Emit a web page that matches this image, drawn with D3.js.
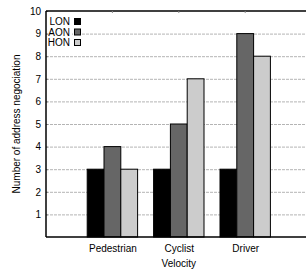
<!DOCTYPE html>
<html lang="en">
<head>
<meta charset="utf-8">
<script src="https://d3js.org/d3.v7.min.js"></script>
<style>
    body { margin: 0; background: #fff; }
    text { font-family: "Liberation Sans", Arial, sans-serif; fill: #000; }
</style>
</head>
<body>
<div id="container"></div>
<script>
    var categories = ["Pedestrian", "Cyclist", "Driver"];
    var series = ["LON", "AON", "HON"];
    var LON = [3, 3, 3];
    var AON = [4, 5, 9];
    var HON = [3, 7, 8];
    var yTicks = [1, 2, 3, 4, 5, 6, 7, 8, 9, 10];
    var colors = ["#000000", "#666666", "#cccccc"];

    var W = 306, H = 271;
    var margin = {top: 11, left: 46, bottom: 34};
    var values = [LON, AON, HON];

    var svg = d3.select("#container").append("svg")
        .attr("width", W).attr("height", H);

    // categories sit at 1,2,3 on a 0..4 axis that runs off the right edge
    var x = d3.scaleLinear().domain([0, 4]).range([margin.left, margin.left + 4 * 66.4]);
    var y = d3.scaleLinear().domain([0, 10]).range([H - margin.bottom, margin.top]);
    var barW = 16.8;

    // grid lines
    svg.append("g").selectAll("line")
        .data(yTicks.slice(0, -1))
        .enter().append("line")
        .attr("x1", margin.left).attr("x2", W)
        .attr("y1", function(d) { return y(d) + 0.5; })
        .attr("y2", function(d) { return y(d) + 0.5; })
        .attr("stroke", "#b4b4b4")
        .attr("stroke-dasharray", "3,1")
        .attr("stroke-width", 1);

    // bars
    var rows = [];
    categories.forEach(function(c, i) {
        series.forEach(function(s, j) {
            rows.push({cat: i + 1, s: j, v: values[j][i]});
        });
    });
    svg.append("g").selectAll("rect")
        .data(rows)
        .enter().append("rect")
        .attr("x", function(d) { return x(d.cat) - 1.5 * barW + d.s * barW; })
        .attr("y", function(d) { return y(d.v); })
        .attr("width", barW)
        .attr("height", function(d) { return y(0) - y(d.v); })
        .attr("fill", function(d) { return colors[d.s]; })
        .attr("stroke", "#000")
        .attr("stroke-width", 1);

    // axes
    var yAxis = d3.axisLeft(y).tickValues(yTicks).tickSize(0).tickPadding(5);
    var gy = svg.append("g").attr("transform", "translate(" + margin.left + ",0)").call(yAxis);
    gy.select(".domain").remove();
    gy.selectAll("text").style("font-size", "10px");
    // tiny inward ticks on the left edge
    svg.append("g").selectAll("line")
        .data(yTicks)
        .enter().append("line")
        .attr("x1", margin.left).attr("x2", margin.left + 2)
        .attr("y1", function(d) { return y(d) + 0.5; })
        .attr("y2", function(d) { return y(d) + 0.5; })
        .attr("stroke", "#888");

    var xAxis = d3.axisBottom(x).tickValues([1, 2, 3])
        .tickFormat(function(d) { return categories[d - 1]; })
        .tickSize(0).tickPadding(8);
    var gx = svg.append("g").attr("transform", "translate(0," + y(0) + ")").call(xAxis);
    gx.select(".domain").remove();
    gx.selectAll("text").style("font-size", "10px");

    // frame: left, bottom, top
    svg.append("line")
        .attr("x1", margin.left).attr("x2", margin.left)
        .attr("y1", y(10)).attr("y2", y(0))
        .attr("stroke", "#000").attr("stroke-width", 1.5);
    svg.append("line")
        .attr("x1", margin.left).attr("x2", W)
        .attr("y1", y(0)).attr("y2", y(0))
        .attr("stroke", "#000").attr("stroke-width", 1.5);
    svg.append("line")
        .attr("x1", margin.left).attr("x2", W)
        .attr("y1", y(10)).attr("y2", y(10))
        .attr("stroke", "#000").attr("stroke-width", 1.5);
    // small ticks on top edge
    svg.append("g").selectAll("line")
        .data([1, 2, 3])
        .enter().append("line")
        .attr("x1", function(d) { return x(d); }).attr("x2", function(d) { return x(d); })
        .attr("y1", y(10)).attr("y2", y(10) + 2)
        .attr("stroke", "#888");

    // legend
    var leg = svg.append("g");
    series.forEach(function(s, j) {
        var ly = 21.5 + j * 10.5;
        leg.append("rect")
            .attr("x", 54).attr("y", ly - 5)
            .attr("width", 18).attr("height", 10)
            .attr("fill", "#fff");
        leg.append("text")
            .attr("x", 70).attr("y", ly)
            .attr("dy", "0.35em")
            .attr("text-anchor", "end")
            .style("font-size", "10px")
            .text(s);
        leg.append("rect")
            .attr("x", 74.5).attr("y", ly - 3)
            .attr("width", 6).attr("height", 6)
            .attr("fill", colors[j])
            .attr("stroke", "#000").attr("stroke-width", 1);
    });

    // axis titles
    svg.append("text")
        .attr("transform", "translate(16," + ((y(0) + y(10)) / 2) + ") rotate(-90)")
        .attr("text-anchor", "middle")
        .attr("dy", "0.35em")
        .style("font-size", "10px")
        .text("Number of address negociation");
    svg.append("text")
        .attr("x", x(2)).attr("y", 263)
        .attr("text-anchor", "middle")
        .attr("dy", "0.35em")
        .style("font-size", "10px")
        .text("Velocity");
</script>
</body>
</html>
